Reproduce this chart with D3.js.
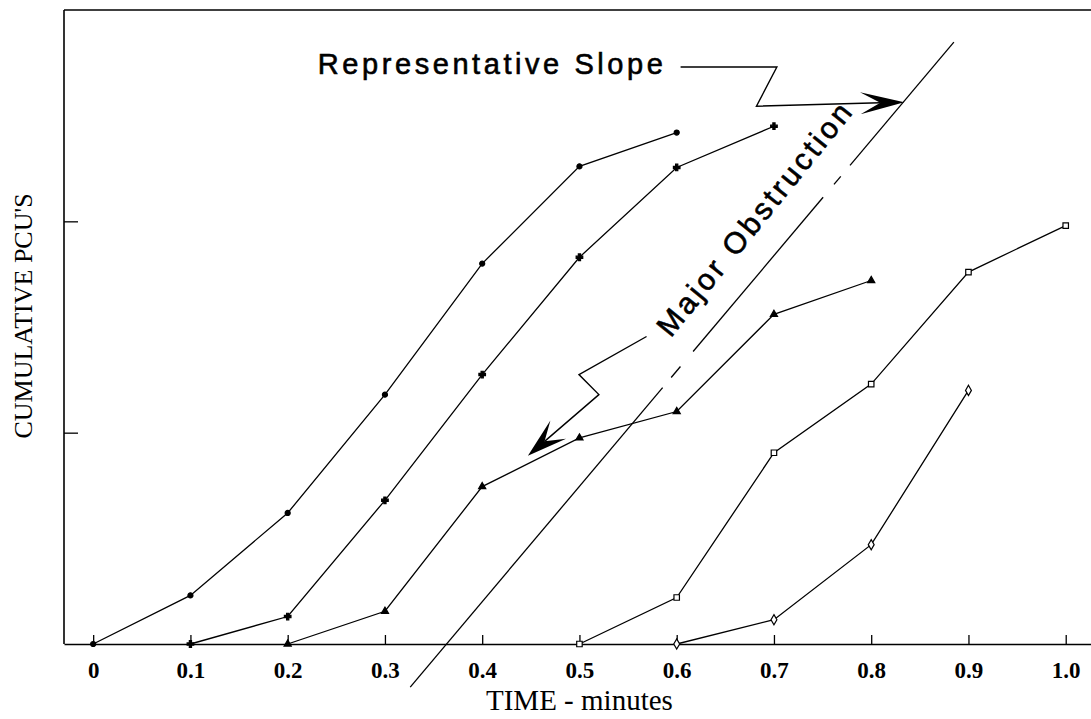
<!DOCTYPE html>
<html><head><meta charset="utf-8">
<script src="https://cdn.jsdelivr.net/npm/d3@7"></script>
<style>html,body{margin:0;padding:0;background:#fff;}svg{display:block;}</style>
</head><body>
<svg id="c" width="1091" height="719"></svg>
<script>
// ---- data ----
const xTicks = [0, 0.1, 0.2, 0.3, 0.4, 0.5, 0.6, 0.7, 0.8, 0.9, 1.0];
const xTickLabels = ["0", "0.1", "0.2", "0.3", "0.4", "0.5", "0.6", "0.7", "0.8", "0.9", "1.0"];
const yTicks = [10, 20];
const s1x = [0, 0.1, 0.2, 0.3, 0.4, 0.5, 0.6];
const s1y = [0, 2.3, 6.2, 11.8, 18.0, 22.6, 24.2];
const s2x = [0.1, 0.2, 0.3, 0.4, 0.5, 0.6, 0.7];
const s2y = [0, 1.3, 6.8, 12.75, 18.3, 22.55, 24.5];
const s3x = [0.2, 0.3, 0.4, 0.5, 0.6, 0.7, 0.8];
const s3y = [0, 1.55, 7.45, 9.75, 11.0, 15.6, 17.2];
const s4x = [0.5, 0.6, 0.7, 0.8, 0.9, 1.0];
const s4y = [0, 2.2, 9.05, 12.3, 17.6, 19.8];
const s5x = [0.6, 0.7, 0.8, 0.9];
const s5y = [0, 1.15, 4.7, 12.0];
// representative slope line (data units): endpoints and visible y-intervals
const slopeEnds = [[0.326, -2.04], [0.885, 28.48]];
const slopeSolidY = [[-2.04, 12.13], [12.61, 13.13], [13.84, 21.14], [21.75, 22.13], [22.65, 28.48]];
// annotation callouts (data units)
const slopeCallout = [[0.604, 27.3], [0.703, 27.3], [0.682, 25.45], [0.834, 25.64]];
const obstrCallout = [[0.569, 14.55], [0.4995, 12.75], [0.52, 11.8], [0.447, 8.91]];
const slopeLabel = {text: "Representative Slope", x: 0.231, y: 26.95};
const obstrLabel = {text: "Major Obstruction", x: 0.594, y: 14.45};
const xTitle = "TIME - minutes";
const yTitle = "CUMULATIVE PCU'S";

// ---- scales ----
const svg = d3.select("#c");
const x = d3.scaleLinear().domain([-0.03, 1.026]).range([64, 1091]);
const y = d3.scaleLinear().domain([0, 30]).range([644, 10]);

// frame
svg.append("line").attr("x1", x.range()[0]).attr("x2", x.range()[0]).attr("y1", y(30)).attr("y2", y(0))
  .attr("stroke", "#000").attr("stroke-width", 1.6);
svg.append("line").attr("x1", x.range()[0]).attr("x2", x.range()[1]).attr("y1", y(30)).attr("y2", y(30))
  .attr("stroke", "#000").attr("stroke-width", 1.4);

// x axis
const xa = svg.append("g").attr("transform", `translate(0,${y(0)})`)
  .call(d3.axisBottom(x).tickValues(xTicks).tickSizeInner(-9).tickSizeOuter(0)
        .tickFormat((d, i) => xTickLabels[i]));
xa.attr("font-size", null);
xa.select(".domain").attr("stroke-width", 1.6);
xa.selectAll(".tick line").attr("stroke-width", 1.3);
xa.selectAll(".tick text").attr("y", 34).attr("dy", null)
  .style("font-family", "'Liberation Serif','Times New Roman',serif")
  .style("font-weight", "bold").style("font-size", "23px").attr("fill", "#000");

// y axis
const ya = svg.append("g").attr("transform", `translate(${x.range()[0]},0)`)
  .call(d3.axisLeft(y).tickValues(yTicks).tickSizeInner(-14).tickSizeOuter(0).tickFormat(""));
ya.select(".domain").remove();
ya.selectAll(".tick line").attr("stroke-width", 1.3);

// titles
svg.append("text").attr("x", x(0.5)).attr("y", 710).attr("text-anchor", "middle")
  .style("font-family", "'Liberation Serif','Times New Roman',serif").style("font-size", "29px")
  .text(xTitle);
svg.append("text").attr("transform", "translate(32,316) rotate(-90)").attr("text-anchor", "middle")
  .style("font-family", "'Liberation Serif','Times New Roman',serif").style("font-size", "26px")
  .text(yTitle);

// series
const line = d3.line().x(d => x(d[0])).y(d => y(d[1]));
const series = [
  {xs: s1x, ys: s1y, sym: d3.symbolCircle, size: 20, fill: "#000"},
  {xs: s2x, ys: s2y, sym: d3.symbolCross, size: 24, fill: "#000"},
  {xs: s3x, ys: s3y, sym: d3.symbolTriangle, size: 22, fill: "#000"},
  {xs: s4x, ys: s4y, sym: d3.symbolSquare, size: 30, fill: "#fff"},
  {xs: s5x, ys: s5y, sym: d3.symbolDiamond, size: 30, fill: "#fff"}
];
series.forEach(s => {
  const pts = s.xs.map((v, i) => [v, s.ys[i]]);
  svg.append("path").datum(pts).attr("d", line).attr("fill", "none")
    .attr("stroke", "#000").attr("stroke-width", 1.3);
  svg.selectAll(null).data(pts).enter().append("path")
    .attr("transform", d => `translate(${x(d[0])},${y(d[1])})`)
    .attr("d", d3.symbol().type(s.sym).size(s.size))
    .attr("fill", s.fill).attr("stroke", "#000").attr("stroke-width", 1.2);
});

// representative slope line
const [p0, p1] = slopeEnds;
const xAtY = v => p0[0] + (v - p0[1]) * (p1[0] - p0[0]) / (p1[1] - p0[1]);
slopeSolidY.forEach(([a, b]) => {
  svg.append("line").attr("x1", x(xAtY(a))).attr("y1", y(a)).attr("x2", x(xAtY(b))).attr("y2", y(b))
    .attr("stroke", "#000").attr("stroke-width", 1.3);
});

// callouts with filled notched arrowheads
function callout(pts, len, hw, notch) {
  const px = pts.map(d => [x(d[0]), y(d[1])]);
  const n = px.length;
  const tip = px[n - 1], prev = px[n - 2];
  const dx = tip[0] - prev[0], dy = tip[1] - prev[1];
  const L = Math.hypot(dx, dy), ux = dx / L, uy = dy / L;
  const nx = -uy, ny = ux;
  const shaftEnd = [tip[0] - ux * notch, tip[1] - uy * notch];
  svg.append("path").attr("d", d3.line()(px.slice(0, n - 1).concat([shaftEnd])))
    .attr("fill", "none").attr("stroke", "#000").attr("stroke-width", 1.4).attr("stroke-linejoin", "miter");
  const head = [
    tip,
    [tip[0] - ux * len + nx * hw, tip[1] - uy * len + ny * hw],
    [tip[0] - ux * notch, tip[1] - uy * notch],
    [tip[0] - ux * len - nx * hw, tip[1] - uy * len - ny * hw]
  ];
  svg.append("path").attr("d", d3.line()(head) + "Z").attr("fill", "#000");
}
callout(slopeCallout, 44, 11, 24);
callout(obstrCallout, 40, 12, 22);

// labels
svg.append("text").attr("x", x(slopeLabel.x)).attr("y", y(slopeLabel.y))
  .style("font-family", "'Liberation Sans',Arial,Helvetica,sans-serif").style("font-size", "29px")
  .attr("stroke", "#000").attr("stroke-width", 0.6)
  .attr("textLength", 345).attr("lengthAdjust", "spacing").text(slopeLabel.text);
svg.append("text").attr("transform", `translate(${x(obstrLabel.x)},${y(obstrLabel.y)}) rotate(-51)`)
  .style("font-family", "'Liberation Sans',Arial,Helvetica,sans-serif").style("font-size", "30px")
  .attr("stroke", "#000").attr("stroke-width", 0.6)
  .attr("textLength", 290).attr("lengthAdjust", "spacing").text(obstrLabel.text);
</script>
</body></html>
